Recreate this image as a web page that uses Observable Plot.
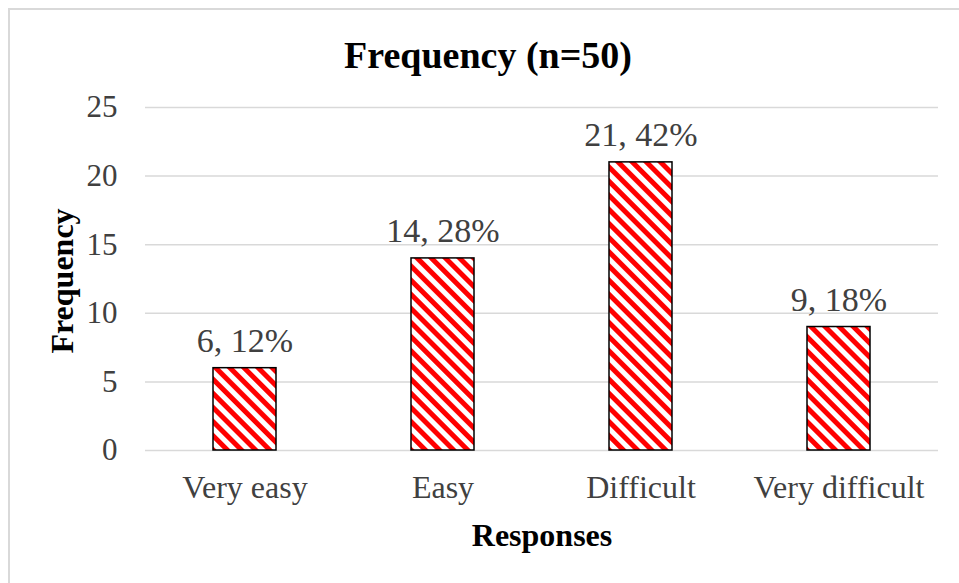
<!DOCTYPE html>
<html>
<head>
<meta charset="utf-8">
<script src="https://cdn.jsdelivr.net/npm/d3@7"></script>
<script src="https://cdn.jsdelivr.net/npm/@observablehq/plot@0.6"></script>
<style>
  html, body { margin: 0; padding: 0; background: #fff; }
  #wrap { position: relative; width: 959px; height: 583px; overflow: hidden; }
  #frame {
    position: absolute; left: 8px; top: 8px; width: 980px; height: 600px;
    border-left: 2px solid #d9d9d9; border-top: 2px solid #d9d9d9; box-sizing: border-box;
  }
  #chart { position: absolute; left: 0; top: 0; }
</style>
</head>
<body>
<div id="wrap">
  <div id="frame"></div>
  <div id="chart"></div>
</div>
<script>
// Survey responses (n = 50)
const categories = ["Very easy", "Easy", "Difficult", "Very difficult"];
const counts = [6, 14, 21, 9];
const percents = [12, 28, 42, 18];
const yTicks = [0, 5, 10, 15, 20, 25];

const rows = categories.map((c, i) => ({category: c, count: counts[i], pct: percents[i]}));

const serif = "'Liberation Serif', 'Times New Roman', serif";
const textColor = "#404040";

const chart = Plot.plot({
  width: 959,
  height: 583,
  marginTop: 107,
  marginBottom: 133,
  marginLeft: 145,
  marginRight: 21,
  style: {fontFamily: serif, background: "transparent", overflow: "visible"},
  x: {domain: categories, paddingInner: 0.68, paddingOuter: 0.34, label: null},
  y: {domain: [0, 25], label: null},
  marks: [
    Plot.gridY(yTicks, {stroke: "#d9d9d9", strokeOpacity: 1, strokeWidth: 1.5}),
    Plot.axisY({ticks: yTicks, tickSize: 0, tickPadding: 28, fontSize: 31, fill: textColor, label: null}),
    Plot.axisX({tickSize: 0, tickPadding: 25, fontSize: 32, fill: textColor, label: null}),
    Plot.barY(rows, {x: "category", y: "count", fill: "url(#diag-hatch)", stroke: "#000", strokeWidth: 1.5}),
    Plot.text(rows, {x: "category", y: "count", text: d => `${d.count}, ${d.pct}%`, dy: -27, fontSize: 34, fill: textColor}),
    Plot.text(["Frequency (n=50)"], {frameAnchor: "top", lineAnchor: "middle", dx: -54, dy: -52, fontSize: 38, fontWeight: "bold", fill: "#000"}),
    Plot.text(["Responses"], {frameAnchor: "bottom", lineAnchor: "middle", dy: 85, fontSize: 32, fontWeight: "bold", fill: "#000"}),
    Plot.text(["Frequency"], {frameAnchor: "left", textAnchor: "middle", lineAnchor: "middle", dx: -83, dy: 2, rotate: -90, fontSize: 32, fontWeight: "bold", fill: "#000"})
  ]
});

// Diagonal red hatch used as the bar fill
const svg = d3.select(chart);
const pattern = svg.insert("defs", ":first-child")
  .append("pattern")
  .attr("id", "diag-hatch")
  .attr("patternUnits", "userSpaceOnUse")
  .attr("width", 10)
  .attr("height", 10)
  .attr("patternTransform", "rotate(-45)");
pattern.append("rect").attr("width", 10).attr("height", 10).attr("fill", "#fff");
pattern.append("rect").attr("width", 5).attr("height", 10).attr("fill", "#ff0000");

document.getElementById("chart").appendChild(chart);
</script>
</body>
</html>
